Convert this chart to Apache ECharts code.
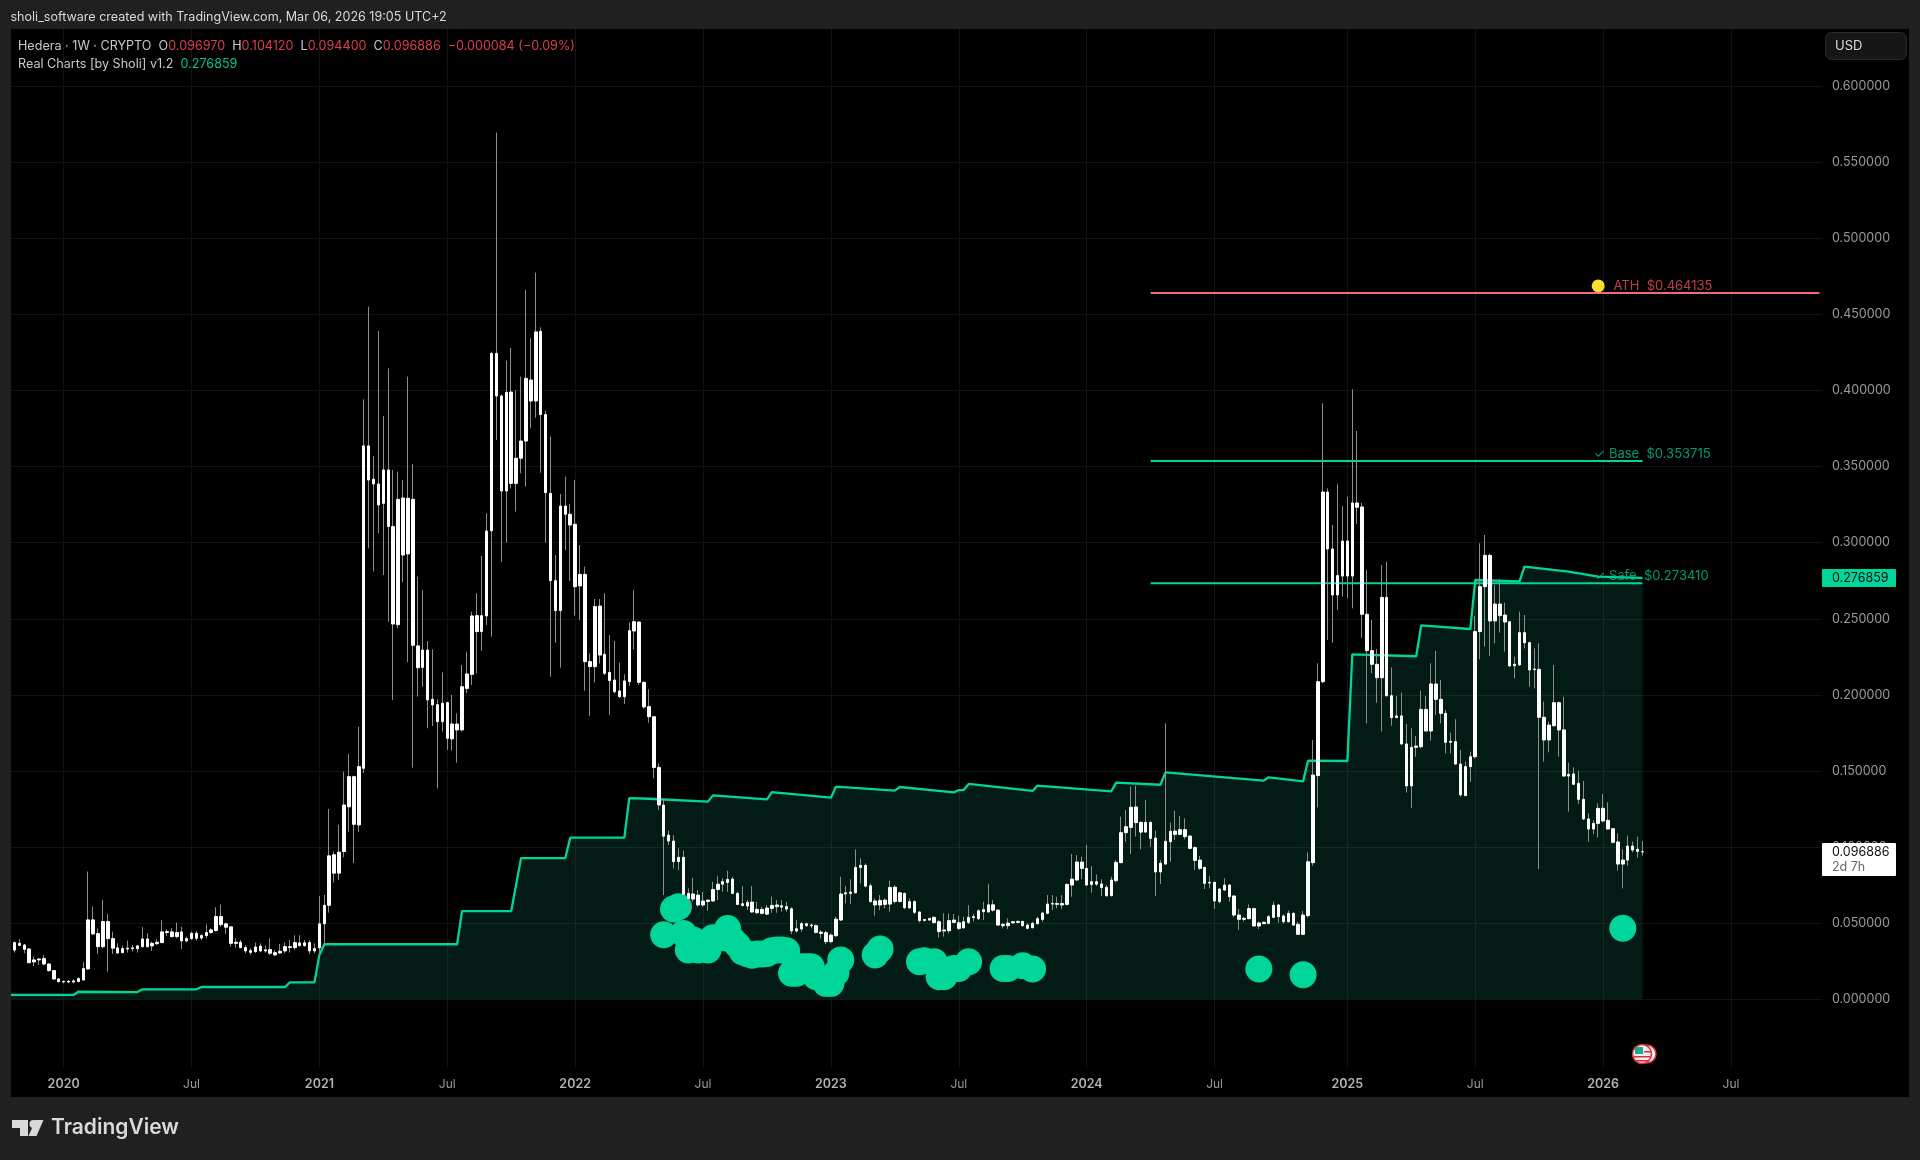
<!DOCTYPE html>
<html><head><meta charset="utf-8"><title>Hedera 1W</title>
<style>html,body{margin:0;padding:0;background:#202020}#c{width:1920px;height:1160px}</style>
<script src="https://cdn.jsdelivr.net/npm/echarts@6/dist/echarts.min.js"></script></head>
<body><div id="c"></div>
<script>
// Weekly bars: every bar in the picture is white, so body top/bottom are recorded rather than open/close.
// The first entry is the bar cut off by the left edge of the panel.
const bodyTop=[.0335,
.0373,.0368,.0357,.0331,.0259,.0265,.0268,.0232,.0189,.0134,
.0118,.0118,.0121,.0136,.0202,.0522,.0522,.0432,.0511,.0511,
.0399,.0338,.0333,.0336,.0338,.0351,.0397,.0397,.0368,.0375,
.0443,.0445,.0443,.0439,.0443,.0399,.0434,.0434,.0419,.0439,
.0456,.0544,.0544,.0496,.0476,.0375,.0375,.034,.032,.0344,
.0349,.0325,.0327,.0307,.0316,.0346,.0346,.0373,.0371,.0371,
.0373,.0333,.0496,.0618,.0943,.095,.0967,.1277,.1463,.1463,
.1529,.3636,.3636,.3417,.3386,.3478,.3478,.3106,.3285,.3294,
.3292,.3285,.2322,.2295,.2295,.1971,.1936,.1945,.1949,.1809,
.1809,.2054,.2138,.2519,.2521,.2521,.3077,.4244,.4244,.3964,
.3988,.399,.3555,.3668,.408,.4069,.4385,.4389,.3842,.3324,
.2751,.3241,.3241,.3187,.3121,.2792,.2792,.2219,.258,.2584,
.2267,.2148,.2098,.2026,.2092,.2422,.2481,.2479,.2083,.1923,
.1857,.1524,.1276,.1079,.104,.0933,.0933,.0696,.0692,.0685,
.0646,.0652,.0722,.0757,.0773,.0788,.079,.0696,.0628,.0637,
.0639,.0591,.0591,.06,.0617,.062,.0615,.0609,.0595,.0464,
.0497,.0497,.0488,.0484,.0442,.0438,.0422,.0527,.0692,.07,
.0705,.0867,.088,.088,.0746,.0646,.065,.0652,.0735,.0737,
.07,.0696,.0642,.0642,.0574,.0525,.0532,.0539,.051,.0456,
.0517,.0521,.0503,.051,.0539,.0543,.0582,.0589,.0621,.0621,
.0586,.0492,.0501,.051,.0512,.0512,.0488,.0499,.053,.0567,
.0626,.063,.063,.063,.0755,.079,.0902,.0902,.086,.0773,
.0773,.0758,.0736,.0784,.09,.1095,.1134,.1262,.1264,.1163,
.1163,.1163,.106,.0894,.1038,.1104,.1106,.1115,.1115,.1073,
.0997,.0915,.0867,.0769,.0769,.0725,.0751,.0751,.0679,.0554,
.0532,.0596,.0596,.0502,.0506,.0543,.0618,.062,.0548,.0565,
.0565,.0493,.0554,.0904,.1474,.2087,.3333,.3333,.2959,.2784,
.3011,.3011,.3261,.3261,.3235,.253,.2291,.2201,.2641,.2641,
.1995,.1862,.1862,.1678,.1656,.1664,.1905,.1905,.2072,.2072,
.1971,.1879,.1695,.1693,.1546,.1529,.1594,.2416,.2711,.2917,
.2917,.2597,.2597,.2525,.2481,.2201,.2409,.2409,.2343,.217,
.2168,.1853,.1802,.1949,.1949,.177,.1478,.1481,.1419,.1314,
.1185,.1156,.1255,.1255,.1176,.1121,.1034,.0915,.1007,.1007,
.0986,.09697];
const bodyBottom=[.0326,
.0324,.0355,.0329,.0241,.0246,.0259,.0232,.0189,.0134,.0116,
.0114,.0114,.0114,.0118,.0127,.02,.043,.0346,.0346,.0399,
.0336,.0305,.0307,.0331,.0333,.0333,.0346,.0346,.0351,.0366,
.0373,.0439,.0412,.0412,.0384,.0384,.0399,.0401,.0403,.0419,
.0439,.0452,.0491,.0474,.0368,.0368,.034,.0318,.0309,.0314,
.0318,.0318,.0303,.0292,.0305,.0318,.034,.034,.0353,.0353,
.0318,.0318,.0338,.0496,.0618,.0829,.0829,.0971,.1265,.115,
.1146,.1518,.3412,.3386,.3248,.3259,.3106,.2466,.2462,.2919,
.2926,.2326,.2179,.2181,.1967,.1934,.1824,.1824,.1715,.1711,
.177,.177,.2043,.2135,.2416,.2416,.2519,.3079,.3964,.334,
.334,.339,.339,.3555,.3668,.3931,.3931,.3842,.3329,.2751,
.2554,.2554,.3187,.3116,.2711,.2716,.2219,.2186,.2186,.2262,
.2142,.2094,.2021,.1989,.1989,.2087,.242,.2083,.1921,.1857,
.1524,.1277,.1072,.104,.0905,.0905,.069,.0663,.0659,.062,
.062,.0643,.0646,.0722,.0757,.0768,.0696,.0624,.0617,.0613,
.0574,.0569,.0565,.056,.0598,.0609,.0606,.0593,.0449,.0449,
.0462,.0484,.0484,.044,.0433,.0379,.0379,.0418,.0521,.0692,
.0696,.07,.0867,.0744,.0642,.062,.062,.0624,.0626,.0643,
.0643,.0602,.0602,.0572,.0517,.0517,.0521,.0504,.0445,.0449,
.0451,.0506,.0466,.047,.0506,.0537,.053,.0576,.0574,.0586,
.0488,.0484,.0484,.0503,.0506,.0484,.0467,.0471,.0497,.0525,
.0565,.0626,.0624,.062,.0624,.0751,.0784,.086,.0751,.0755,
.0757,.0734,.0681,.0681,.078,.0898,.1095,.113,.1161,.1099,
.1099,.1058,.0837,.0837,.0889,.1036,.1084,.1084,.1069,.0992,
.0913,.0861,.0762,.0764,.0646,.0642,.0718,.0675,.0554,.0526,
.0526,.053,.0482,.0482,.0497,.0499,.0539,.0543,.051,.051,
.0488,.0427,.0427,.055,.0898,.147,.2087,.2959,.2657,.2657,
.2781,.2781,.2781,.3233,.253,.2291,.2201,.2113,.2113,.1995,
.1851,.1851,.1678,.1402,.1402,.1656,.166,.1763,.1763,.1971,
.1879,.1689,.1689,.1546,.1343,.1338,.1529,.1594,.2416,.2711,
.2486,.2486,.2521,.2479,.219,.2192,.2197,.2343,.2164,.2166,
.1853,.1704,.1704,.1798,.177,.1467,.1467,.1413,.1314,.1185,
.1119,.1119,.1156,.1172,.1119,.1032,.0889,.0889,.0915,.0981,
.0972,.096886];
const wickHigh=[.034,
.0379,.0395,.0364,.0336,.0281,.027,.0292,.0237,.0193,.0138,
.0123,.0127,.0132,.0145,.0246,.084,.061,.0467,.0654,.0559,
.0445,.0368,.0353,.0386,.0357,.0357,.0474,.0434,.0379,.0395,
.0522,.0461,.0467,.0504,.0478,.0412,.0445,.045,.043,.0493,
.0467,.0605,.0623,.0504,.0482,.0401,.039,.0357,.0336,.0373,
.0368,.0353,.0399,.0325,.0364,.0373,.039,.0421,.0421,.039,
.039,.0368,.068,.0686,.125,.0971,.1147,.1496,.161,.147,
.1791,.3942,.4551,.357,.4391,.3833,.4146,.3478,.3467,.3412,
.4091,.3517,.2777,.2689,.2354,.23,.1971,.2148,.1955,.2,
.1879,.2197,.2284,.2547,.2668,.2913,.3193,.4255,.5694,.3975,
.4196,.4279,.4004,.4091,.466,.4343,.4774,.4415,.3868,.3697,
.2919,.332,.3434,.3254,.3412,.2985,.2843,.2273,.263,.263,
.2668,.2394,.2354,.2212,.2135,.2475,.2689,.2483,.2088,.2037,
.1861,.1551,.132,.1108,.1079,.0992,.0976,.0729,.0799,.0718,
.0707,.0656,.0773,.0812,.0795,.0845,.0806,.0707,.0744,.0652,
.0744,.0641,.0609,.0619,.0674,.0652,.0652,.0641,.0604,.0521,
.051,.0503,.0499,.0493,.0455,.0451,.0433,.0543,.0806,.0744,
.0788,.0985,.0926,.0893,.0762,.0663,.0685,.0663,.078,.075,
.0707,.0702,.0663,.0652,.0576,.0529,.0536,.0543,.0521,.0565,
.0565,.0561,.0549,.0543,.0619,.0561,.0591,.0641,.0757,.0652,
.059,.0503,.0532,.0514,.0517,.0517,.0499,.051,.0543,.0576,
.0685,.0685,.0674,.0685,.0762,.0955,.0948,.0937,.1014,.0876,
.082,.0789,.0751,.0806,.0915,.12,.1244,.1397,.1404,.1168,
.131,.1168,.1108,.0915,.1813,.1161,.124,.1205,.1189,.108,
.1007,.0942,.0871,.081,.0773,.0729,.0795,.0756,.0686,.0594,
.0543,.0624,.0602,.0511,.0511,.0554,.0642,.0626,.0559,.0583,
.0572,.051,.058,.0966,.1704,.2208,.3916,.3357,.3117,.3384,
.3241,.3303,.4008,.3734,.3263,.2821,.2492,.23,.2854,.2876,
.2181,.1993,.2015,.1809,.1781,.173,.2028,.1993,.2208,.2289,
.2098,.1901,.1752,.184,.1638,.1562,.1627,.2519,.2996,.3051,
.2929,.2722,.2762,.2606,.2485,.2251,.2547,.2525,.235,.2306,
.2339,.1956,.1824,.2197,.1956,.1989,.1555,.1524,.1502,.1434,
.1222,.1178,.1288,.1349,.1294,.1123,.1091,.0986,.1075,.1036,
.1069,.10412];
const wickLow=[.032,
.0307,.0351,.0303,.0237,.0219,.0226,.0224,.0182,.0127,.0112,
.0105,.0105,.0105,.0114,.0123,.0193,.0423,.0298,.0336,.0182,
.0298,.0298,.0303,.0307,.0314,.0307,.034,.0342,.0318,.0357,
.0368,.0417,.0408,.0401,.0331,.0375,.039,.0386,.039,.0401,
.043,.0445,.0478,.043,.0346,.034,.0336,.0303,.0292,.0303,
.0309,.0307,.0292,.0285,.0298,.0303,.0307,.0325,.0346,.0346,
.0298,.0303,.029,.0368,.057,.0768,.0785,.0934,.1101,.0895,
.11,.1485,.2963,.281,.3062,.2788,.2481,.1967,.2438,.274,
.2214,.1522,.1989,.2054,.1781,.1796,.1386,.1759,.1638,.1634,
.1555,.1759,.2011,.2065,.2142,.2289,.246,.2383,.3675,.2875,
.3,.3357,.3204,.3456,.3368,.3752,.3822,.346,.3,.212,
.2343,.2179,.2952,.2749,.2521,.2492,.2028,.1862,.2081,.2208,
.2131,.1868,.2011,.1978,.194,.2059,.23,.2065,.191,.1818,
.1452,.1244,.0685,.1014,.086,.0849,.0675,.0586,.0642,.0609,
.0609,.0582,.0641,.0652,.0707,.0707,.0692,.0619,.0609,.0587,
.0569,.056,.0558,.0554,.0569,.0569,.0576,.0576,.0429,.0438,
.0444,.0477,.0466,.0433,.04,.0363,.0368,.0411,.0516,.063,
.0626,.0696,.0762,.0735,.0635,.055,.0587,.0598,.0576,.063,
.0635,.0593,.0593,.056,.0506,.0513,.0515,.0499,.0405,.0412,
.0433,.0499,.0455,.0466,.0495,.0511,.0521,.0521,.057,.0576,
.0484,.0466,.0462,.0495,.0499,.0477,.046,.0466,.0492,.051,
.056,.0586,.0598,.0593,.0617,.0674,.078,.079,.0744,.07,
.0744,.0679,.0675,.0677,.0767,.0894,.1036,.0955,.1069,.0986,
.1095,.1003,.0679,.0758,.0883,.0905,.1047,.1079,.1051,.0986,
.085,.085,.0725,.0729,.0594,.0631,.0714,.0642,.0539,.0456,
.0511,.0526,.0478,.0462,.0495,.0493,.0532,.0504,.0499,.0506,
.0484,.0423,.0423,.0537,.0878,.1261,.2076,.2361,.2343,.2558,
.2646,.2635,.2569,.3123,.2376,.1813,.2142,.1949,.1759,.1989,
.1798,.1847,.1671,.1358,.1258,.1594,.1649,.1759,.17,.1868,
.1813,.1616,.1616,.154,.1332,.1336,.143,.1583,.2234,.2317,
.2256,.2339,.2409,.2284,.2186,.2109,.2192,.2306,.2054,.2043,
.0856,.1562,.1623,.1791,.1594,.1463,.1233,.1409,.1283,.1178,
.1036,.1086,.1064,.1163,.1117,.1025,.0845,.0729,.0878,.0966,
.0931,.0944];

// Week numbers below count from 2019-10-28; the axis starts one week earlier (LEAD)
const LEAD=1;
// Green "Real Charts" line, at the weeks where its slope visibly changes
const trendWeek=[-1,12,13,25,26,37,38,55,56,61,62,63,90,91,101,103,112,113,124,125,129,141,142,153,154,166,167,179,180,191,192,193,194,207,208,223,224,233,234,254,255,262,263,271,272,285,286,296,297,306,307,316,322,331];
const trendValue=[.0029,.0029,.005,.0048,.0066,.0066,.0081,.0081,.0112,.0112,.0292,.0362,.0362,.058,.058,.0928,.0928,.1062,.1062,.1322,.1318,.1299,.134,.1314,.1362,.1325,.1397,.1371,.1395,.136,.1375,.1375,.1415,.1369,.1404,.1367,.1424,.141,.1491,.1437,.1459,.1432,.1568,.1566,.2267,.2254,.2457,.2433,.2755,.2746,.2843,.281,.2777,.276859];

// Green buy bubbles
const bubbleWeek=[132,134,135,136,137,138,139,141,142,144,145,146,147,148,149,150,151,152,153,154,155,156,157,158,159,160,161,162,163,165,166,167,168,175,176,184,185,187,188,189,191,192,194,201,202,205,207,253,262,327];
const bubbleValue=[.0424,.0594,.0608,.0433,.0324,.039,.0324,.0324,.0405,.0405,.0466,.039,.0357,.0313,.03,.029,.0298,.0298,.0302,.0319,.0324,.0324,.0319,.0171,.0171,.0214,.0214,.0214,.0149,.0105,.0105,.0171,.0258,.0291,.033,.0247,.0254,.0247,.0149,.0149,.0203,.0203,.0247,.0203,.0203,.0221,.0199,.0199,.0162,.0467];

// Horizontal levels
const levelNames=['ATH','\u2713 Base','\u2713 Safe'];
const levelPrices=[.464135,.353715,.27341];
const levelStartWeek=[231,231,231];
const levelEndWeek=[367,331,331];
const levelLabelWeek=[325,321,321];
const levelColors=['#ee6b75','#00d69a','#00d69a'];
const levelTextColors=['#ef4f59','#00c08f','#00c08f'];
const athDot=[322,.4687];

const priceTicks=[0,.05,.1,.15,.2,.25,.3,.35,.4,.45,.5,.55,.6];
const dateTicks={'2020-01-06':'2020','2020-07-06':'Jul','2021-01-04':'2021','2021-07-05':'Jul','2022-01-03':'2022','2022-07-04':'Jul','2023-01-02':'2023','2023-07-03':'Jul','2024-01-01':'2024','2024-07-01':'Jul','2025-01-06':'2025','2025-07-07':'Jul','2026-01-05':'2026','2026-07-06':'Jul'};
const lastPrice=.096886, indicatorLast=.276859;

const WEEKS=369, FONT='Inter, "Liberation Sans", sans-serif';
const weeks=[];
for(let i=0;i<WEEKS;i++){weeks.push(new Date(Date.UTC(2019,9,21+7*i)).toISOString().slice(0,10));}

const wickData=bodyTop.map((t,i)=>[bodyBottom[i],t,wickLow[i],wickHigh[i]]);
const bodyData=bodyTop.map((t,i)=>[bodyBottom[i],t,bodyBottom[i],t]);

const chart=echarts.init(document.getElementById('c'),null,{renderer:'canvas',width:1920,height:1160});
const levelSeries=[];
levelPrices.forEach((p,k)=>{
  levelSeries.push({type:'line',z:2,silent:true,showSymbol:false,animation:false,
    data:[[levelStartWeek[k]+LEAD,p],[levelEndWeek[k]+LEAD,p]],lineStyle:{color:levelColors[k],width:2}});
  levelSeries.push({type:'scatter',z:6,silent:true,animation:false,symbolSize:1,itemStyle:{color:'rgba(0,0,0,0)'},
    data:[[levelLabelWeek[k]+LEAD,p]],
    label:{show:true,position:'right',distance:0,offset:[0,-7],color:levelTextColors[k],fontFamily:FONT,fontSize:13,
      formatter:levelNames[k]+'  $'+p.toFixed(6)}});
});
chart.setOption({
  animation:false,backgroundColor:'#202020',
  grid:{left:7.08,right:98,top:29,bottom:92,containLabel:false},
  xAxis:{type:'category',data:weeks,boundaryGap:true,
    axisLine:{show:false},
    axisTick:{show:false,customValues:Object.keys(dateTicks),alignWithLabel:true},
    splitLine:{show:true,alignWithLabel:true,lineStyle:{color:'#131313',width:1}},
    axisLabel:{customValues:Object.keys(dateTicks),margin:10,fontFamily:FONT,fontSize:12,color:'#9a9a9a',
      formatter:v=>{const t=dateTicks[v];return t==='Jul'?t:'{y|'+t+'}';},
      rich:{y:{fontFamily:FONT,fontSize:12.5,fontWeight:600,color:'#b4b4b4'}}}},
  yAxis:{type:'value',position:'right',min:-0.0451,max:0.6375,
    axisLine:{show:false},
    axisTick:{show:false,customValues:priceTicks},
    splitLine:{show:true,lineStyle:{color:'#131313',width:1}},
    axisLabel:{customValues:priceTicks,margin:10,fontFamily:FONT,fontSize:12.5,color:'#9a9a9a',formatter:v=>v.toFixed(6)}},
  series:[
    {type:'line',name:'Real Charts',z:2,silent:true,showSymbol:false,animation:false,
     data:trendWeek.map((w,i)=>[w+LEAD,trendValue[i]]),
     lineStyle:{color:'#00d69a',width:2.3},
     areaStyle:{color:'rgba(16,220,170,0.12)',opacity:1,origin:0}},
    ...levelSeries,
    {type:'scatter',name:'Signals',z:3,silent:true,animation:false,symbolSize:27,
     data:bubbleWeek.map((w,i)=>[w+LEAD,bubbleValue[i]]),itemStyle:{color:'#00d69a',opacity:1}},
    {type:'scatter',name:'ATH dot',z:6,silent:true,animation:false,symbolSize:13,data:[[athDot[0]+LEAD,athDot[1]]],itemStyle:{color:'#fbdc2f',opacity:1}},
    {type:'candlestick',name:'Wicks',z:4,silent:true,animation:false,barWidth:1,data:wickData,
     itemStyle:{color:'#8e8e8e',color0:'#8e8e8e',borderColor:'#8e8e8e',borderColor0:'#8e8e8e',borderWidth:1}},
    {type:'candlestick',name:'Hedera',z:5,silent:true,animation:false,barWidth:3,data:bodyData,
     itemStyle:{color:'#fff',color0:'#fff',borderColor:'#fff',borderColor0:'#fff',borderWidth:1}}
  ]
});
const yAt=v=>chart.convertToPixel({yAxisIndex:0},v);
const G='#c9c9c9',R='#d8404a';
const LS=12.6;
const legendRich={g:{fill:G,fontFamily:FONT,fontSize:LS},r:{fill:R,fontFamily:FONT,fontSize:LS},t:{fill:'#00c48c',fontFamily:FONT,fontSize:LS}};
const els=[
 {type:'rect',z:-5,silent:true,shape:{x:11,y:29,width:1898,height:1068},style:{fill:'#000'}},
 {type:'rect',z:30,silent:true,shape:{x:0,y:0,width:11,height:1160},style:{fill:'#202020'}},
 {type:'text',z:20,silent:true,x:10.5,y:17.5,style:{text:'sholi_software created with TradingView.com, Mar 06, 2026 19:05 UTC+2',fill:'#d9d9d9',fontFamily:FONT,fontSize:12.55,verticalAlign:'middle'}},
 {type:'text',z:20,silent:true,x:18,y:46.5,style:{text:'{g|Hedera \u00b7 1W \u00b7 CRYPTO  O}{r|0.096970}{g|  H}{r|0.104120}{g|  L}{r|0.094400}{g|  C}{r|0.096886}{r|  \u22120.000084 (\u22120.09%)}',rich:legendRich,verticalAlign:'middle',fontFamily:FONT,fontSize:LS}},
 {type:'text',z:20,silent:true,x:18,y:64,style:{text:'{g|Real Charts [by Sholi] v1.2}{g|  }{t|0.276859}',rich:legendRich,verticalAlign:'middle',fontFamily:FONT,fontSize:LS}},
 {type:'rect',z:20,silent:true,shape:{x:1825.5,y:32.5,width:81,height:27,r:6},style:{fill:'#161616',stroke:'#2b2b2b',lineWidth:1}},
 {type:'text',z:21,silent:true,x:1835,y:46,style:{text:'USD',fill:'#dcdcdc',fontFamily:FONT,fontSize:13,verticalAlign:'middle'}},
 {type:'rect',z:20,silent:true,shape:{x:1822,y:yAt(indicatorLast)-9,width:74,height:18,r:1},style:{fill:'#00d69a'}},
 {type:'text',z:21,silent:true,x:1832,y:yAt(indicatorLast),style:{text:indicatorLast.toFixed(6),fill:'#0a0a0a',fontFamily:FONT,fontSize:12.5,verticalAlign:'middle'}},
 {type:'rect',z:20,silent:true,shape:{x:1822,y:yAt(lastPrice)-9,width:74,height:33,r:1},style:{fill:'#fff'}},
 {type:'text',z:21,silent:true,x:1832,y:yAt(lastPrice),style:{text:lastPrice.toFixed(6),fill:'#111',fontFamily:FONT,fontSize:12.5,verticalAlign:'middle'}},
 {type:'text',z:21,silent:true,x:1832,y:yAt(lastPrice)+15,style:{text:'2d 7h',fill:'#666',fontFamily:FONT,fontSize:12.5,verticalAlign:'middle'}},
 // economic event flag
 {type:'circle',z:20,silent:true,shape:{cx:1647,cy:1054,r:9},style:{fill:'#eee',stroke:'#d9303e',lineWidth:1.5}},
 {type:'circle',z:20,silent:true,shape:{cx:1642,cy:1054,r:9.5},style:{fill:'#eee',stroke:'#d9303e',lineWidth:1.5}},
 {type:'rect',z:21,silent:true,shape:{x:1644,y:1051,width:7,height:1.5},style:{fill:'#d9303e'}},
 {type:'rect',z:21,silent:true,shape:{x:1634,y:1056,width:16,height:1.5},style:{fill:'#d9303e'}},
 {type:'rect',z:21,silent:true,shape:{x:1635,y:1060,width:14,height:1.5},style:{fill:'#d9303e'}},
 {type:'rect',z:21,silent:true,shape:{x:1635,y:1047,width:8,height:7},style:{fill:'#1fa98a'}},
 // TradingView logo
 {type:'polygon',z:20,silent:true,shape:{points:[[12,1120],[28,1120],[28,1136],[20,1136],[20,1128],[12,1128]]},style:{fill:'#d9d9d9'}},
 {type:'circle',z:20,silent:true,shape:{cx:33.5,cy:1124,r:4},style:{fill:'#d9d9d9'}},
 {type:'polygon',z:20,silent:true,shape:{points:[[35.5,1120],[43.5,1120],[36.5,1136],[28.5,1136]]},style:{fill:'#d9d9d9'}},
 {type:'text',z:20,silent:true,x:51,y:1128,style:{text:'TradingView',fill:'#d9d9d9',fontFamily:FONT,fontSize:21,fontWeight:600,verticalAlign:'middle'}}
];
chart.setOption({graphic:{elements:els}});
</script></body></html>
